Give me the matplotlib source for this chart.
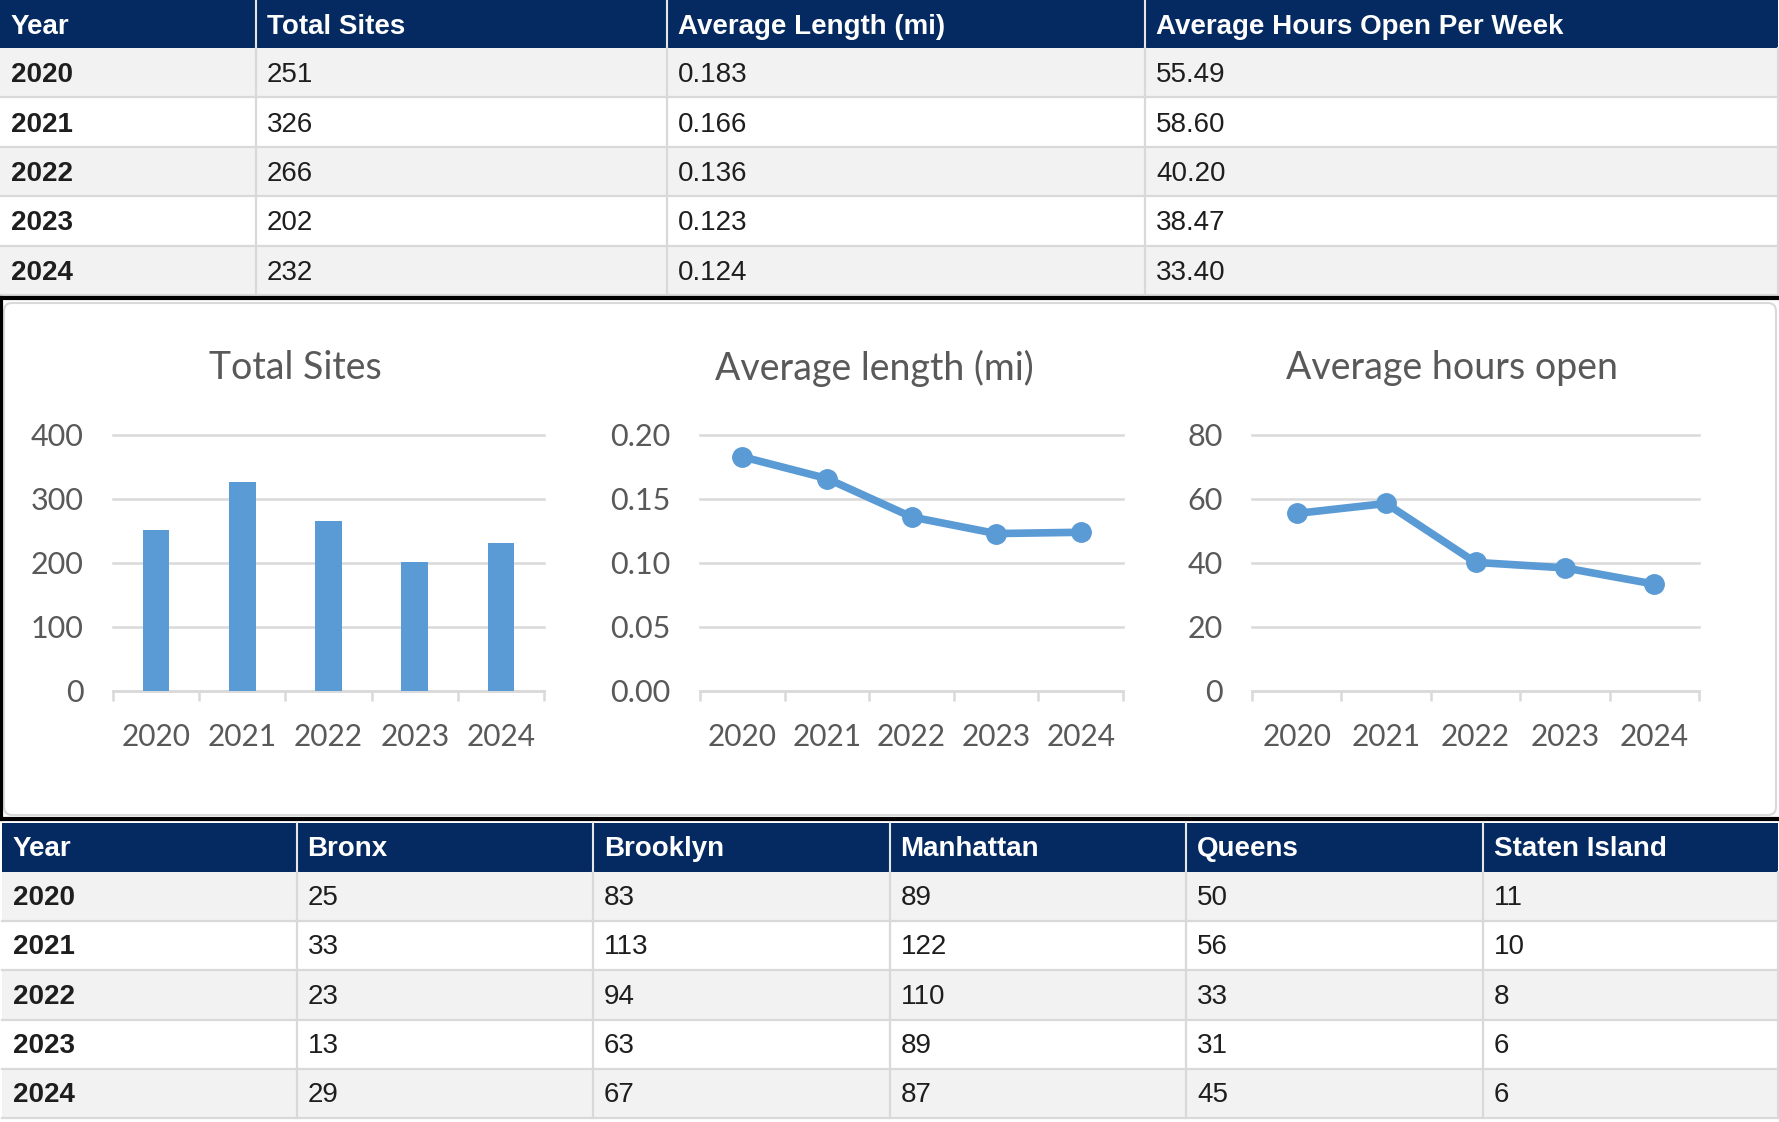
import matplotlib
matplotlib.use("Agg")
import matplotlib.pyplot as plt
from matplotlib.patches import Rectangle, FancyBboxPatch
from matplotlib.ticker import FixedLocator

# ---------------- data ----------------
years = ["2020", "2021", "2022", "2023", "2024"]
total_sites = [251, 326, 266, 202, 232]
avg_length = [0.183, 0.166, 0.136, 0.123, 0.124]
avg_hours = [55.49, 58.60, 40.20, 38.47, 33.40]

top_headers = ["Year", "Total Sites", "Average Length (mi)", "Average Hours Open Per Week"]
length_labels = ["0.183", "0.166", "0.136", "0.123", "0.124"]
hours_labels = ["55.49", "58.60", "40.20", "38.47", "33.40"]

boro_headers = ["Year", "Bronx", "Brooklyn", "Manhattan", "Queens", "Staten Island"]
bronx = [25, 33, 23, 13, 29]
brooklyn = [83, 113, 94, 63, 67]
manhattan = [89, 122, 110, 89, 87]
queens = [50, 56, 33, 31, 45]
staten = [11, 10, 8, 6, 6]

chart_titles = ["Total Sites", "Average length (mi)", "Average hours open"]
sites_ticks = [0, 100, 200, 300, 400]
length_ticks = [0.00, 0.05, 0.10, 0.15, 0.20]
hours_ticks = [0, 20, 40, 60, 80]

# ---------------- style ----------------
W, H = 1779, 1122
DPI = 100
NAVY = "#052a61"
ROW_ALT = "#f2f2f2"
CELL_LINE = "#d9d9d9"
TXT = "#1e1e1e"
BLUE = "#5b9bd5"
GRID = "#d9d9d9"
CTXT = "#595959"
TABLE_FONT = ["Liberation Sans", "DejaVu Sans"]
CHART_FONT = ["Lato", "DejaVu Sans"]

fig = plt.figure(figsize=(W / DPI, H / DPI), dpi=DPI)
fig.patch.set_facecolor("white")
bg = fig.add_axes([0, 0, 1, 1])
bg.set_xlim(0, W)
bg.set_ylim(H, 0)
bg.axis("off")


def draw_table(x_edges, y_top, header_h, row_h, headers, rows, fs=20, dy=2.5):
    x0, x1 = x_edges[0], x_edges[-1]
    bg.add_patch(Rectangle((x0, y_top), x1 - x0, header_h, facecolor=NAVY,
                           edgecolor="none", zorder=1))
    for i, h in enumerate(headers):
        bg.text(x_edges[i] + 11, y_top + header_h / 2 + dy, h, color="white",
                fontsize=fs, fontweight="bold", family=TABLE_FONT,
                ha="left", va="center", zorder=3)
    for xe in x_edges[1:-1]:
        bg.plot([xe, xe], [y_top, y_top + header_h], color="#e6e6e6", lw=1.5, zorder=2)
    for r, row in enumerate(rows):
        yt = y_top + header_h + r * row_h
        bg.add_patch(Rectangle((x0, yt), x1 - x0, row_h,
                               facecolor=ROW_ALT if r % 2 == 0 else "white",
                               edgecolor="none", zorder=1))
        for i, val in enumerate(row):
            bg.text(x_edges[i] + 11, yt + row_h / 2 + dy, str(val), color=TXT,
                    fontsize=fs, fontweight="bold" if i == 0 else "normal",
                    family=TABLE_FONT, ha="left", va="center", zorder=3)
        bg.plot([x0, x1], [yt + row_h, yt + row_h], color=CELL_LINE, lw=1.6, zorder=2)
    y_bot = y_top + header_h + len(rows) * row_h
    for xe in x_edges[1:]:
        bg.plot([xe, xe], [y_top + header_h, y_bot], color=CELL_LINE, lw=1.6, zorder=2)


# top table
top_rows = [[years[i], total_sites[i], length_labels[i], hours_labels[i]] for i in range(5)]
draw_table([0, 256, 667, 1145, W - 1], 0, 48, 49.4, top_headers, top_rows)

# bottom table
boro_rows = [[years[i], bronx[i], brooklyn[i], manhattan[i], queens[i], staten[i]] for i in range(5)]
bx = [i * W / 6 for i in range(7)]
bx[0] = 2
bx[-1] = W - 1
draw_table(bx, 823, 49, 49.2, boro_headers, boro_rows, dy=1.5)

# chart panel frame
bg.plot([0, W], [298, 298], color="black", lw=3, zorder=4)
bg.plot([0, W], [819, 819], color="black", lw=3, zorder=4)
bg.plot([1, 1], [298, 819], color="black", lw=3, zorder=4)
bg.add_patch(FancyBboxPatch((4, 303), W - 7, 512, boxstyle="round,pad=0,rounding_size=8",
                            facecolor="white", edgecolor="#d9d9d9", lw=1.5, zorder=1))


def px_axes(x0, x1, ytop, ybot):
    return fig.add_axes([x0 / W, 1 - ybot / H, (x1 - x0) / W, (ybot - ytop) / H])


def style_axes(ax, ticks, fmt):
    ax.set_facecolor("none")
    ax.set_xlim(-0.5, len(years) - 0.5)
    ax.set_ylim(ticks[0], ticks[-1])
    ax.set_yticks(ticks)
    ax.set_yticklabels([fmt.format(t) for t in ticks])
    ax.set_xticks(range(len(years)))
    ax.set_xticklabels(years)
    ax.xaxis.set_minor_locator(FixedLocator([i - 0.5 for i in range(len(years) + 1)]))
    for s in ["top", "left", "right"]:
        ax.spines[s].set_visible(False)
    ax.spines["bottom"].set_color(GRID)
    ax.spines["bottom"].set_linewidth(1.8)
    ax.yaxis.grid(True, color=GRID, lw=1.8)
    for gl in ax.yaxis.get_gridlines():
        gl.set_clip_on(False)
    ax.set_axisbelow(True)
    ax.tick_params(axis="y", length=0, pad=21, labelsize=22, labelcolor=CTXT)
    ax.tick_params(axis="x", which="major", length=0, pad=23, labelsize=21.5, labelcolor=CTXT)
    ax.tick_params(axis="x", which="minor", length=7, width=1.8, color=GRID, direction="out")
    for lab in ax.get_xticklabels() + ax.get_yticklabels():
        lab.set_family(CHART_FONT)


xs = list(range(len(years)))

ax1 = px_axes(113, 544, 435, 691)
ax1.bar(xs, total_sites, width=0.31, color=BLUE, zorder=3)
style_axes(ax1, sites_ticks, "{:.0f}")

ax2 = px_axes(700, 1123, 435, 691)
ax2.plot(xs, avg_length, color=BLUE, lw=5.5, marker="o", markersize=14, zorder=3, clip_on=False)
style_axes(ax2, length_ticks, "{:.2f}")

ax3 = px_axes(1252, 1699, 435, 691)
ax3.plot(xs, avg_hours, color=BLUE, lw=5.5, marker="o", markersize=14, zorder=3, clip_on=False)
style_axes(ax3, hours_ticks, "{:.0f}")

title_x = [295, 874, 1452]
for tx, title in zip(title_x, chart_titles):
    fig.text(tx / W, 1 - 368 / H, title, ha="center", va="center", fontsize=27,
             color=CTXT, family=CHART_FONT)

fig.savefig("out.png", dpi=DPI, facecolor="white")
